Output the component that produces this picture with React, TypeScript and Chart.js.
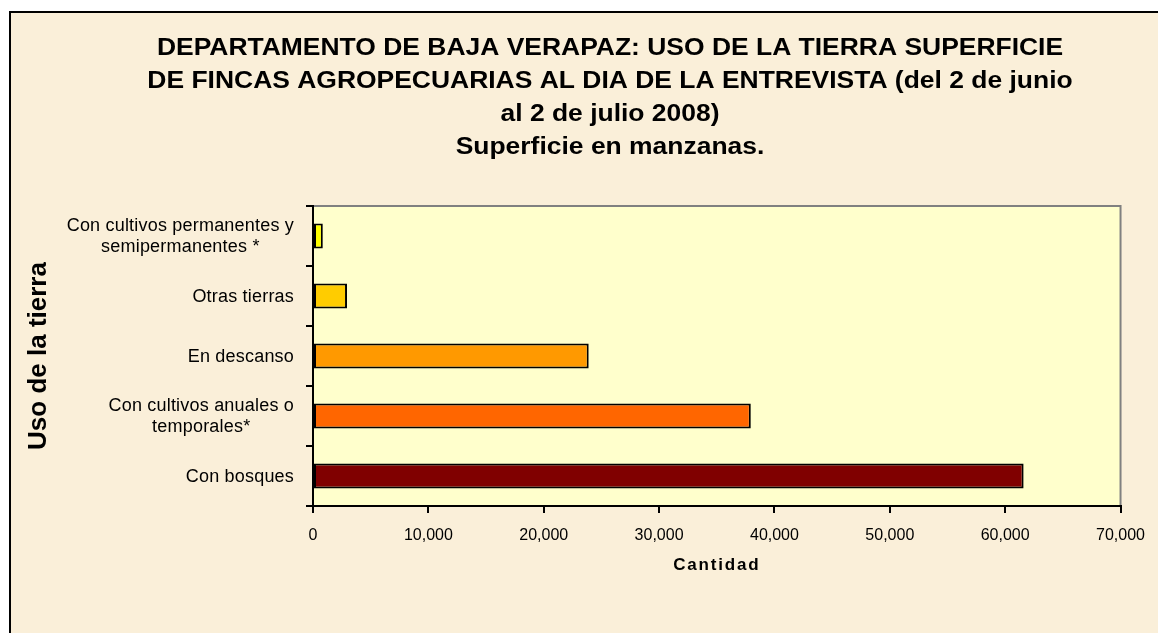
import React, { useEffect, useRef } from "react";
import { Chart, registerables } from "chart.js";

Chart.register(...registerables);

const titleLines = [
  "DEPARTAMENTO DE BAJA VERAPAZ: USO DE LA TIERRA SUPERFICIE",
  "DE FINCAS AGROPECUARIAS AL DIA DE LA ENTREVISTA (del 2 de junio",
  "al 2 de julio 2008)",
  "Superficie en manzanas.",
];
const categories: string[][] = [
  ["Con cultivos permanentes y", "semipermanentes *"],
  ["Otras tierras"],
  ["En descanso"],
  ["Con cultivos anuales o", "temporales*"],
  ["Con bosques"],
];
const values = [850, 2950, 23900, 37950, 61600];
const barColors = ["#FFFF00", "#FFCC00", "#FF9900", "#FF6600", "#800000"];
const xTickValues = [0, 10000, 20000, 30000, 40000, 50000, 60000, 70000];
const xTickLabels = ["0", "10,000", "20,000", "30,000", "40,000", "50,000", "60,000", "70,000"];
const yAxisTitle = "Uso de la tierra";
const xAxisTitle = "Cantidad";

const FONT = "Arial, 'Liberation Sans', sans-serif";
const BG = "#FAEFD9";

const textPlugin = {
  id: "excelTexts",
  beforeDraw(chart: any) {
    const { ctx, chartArea: a, width, height } = chart;
    ctx.save();
    ctx.fillStyle = BG;
    ctx.fillRect(0, 0, width, height);
    ctx.fillStyle = "#FFFFCC";
    ctx.fillRect(a.left, a.top, a.right - a.left, a.bottom - a.top);
    ctx.strokeStyle = "#808080";
    ctx.lineWidth = 2;
    ctx.beginPath();
    ctx.moveTo(a.left, a.top);
    ctx.lineTo(a.right, a.top);
    ctx.lineTo(a.right, a.bottom);
    ctx.stroke();
    ctx.restore();
  },
  afterDraw(chart: any) {
    const { ctx, chartArea: a } = chart;
    const yScale = chart.scales.y;
    ctx.save();
    ctx.fillStyle = "#000";
    ctx.textBaseline = "middle";
    // main title (wide Excel rendering)
    ctx.font = `bold 23px ${FONT}`;
    ctx.textAlign = "center";
    titleLines.forEach((line, i) => {
      ctx.save();
      ctx.translate(599, 36 + i * 33);
      ctx.scale(1.15, 1);
      ctx.fillText(line, 0, 0);
      ctx.restore();
    });
    // y axis title
    ctx.save();
    ctx.translate(28, (a.top + a.bottom) / 2);
    ctx.rotate(-Math.PI / 2);
    ctx.font = `bold 26px ${FONT}`;
    ctx.textAlign = "center";
    ctx.fillText(yAxisTitle, 0, 0);
    ctx.restore();
    // y tick labels (Excel style: block right-aligned, lines centered)
    ctx.font = `18px ${FONT}`;
    (ctx as any).letterSpacing = "0.2px";
    ctx.textAlign = "center";
    const rightEdge = a.left - 19;
    const lh = 21;
    categories.forEach((lines, i) => {
      const cy = yScale.getPixelForTick(i);
      const widest = Math.max(...lines.map((l) => ctx.measureText(l).width));
      const cx = rightEdge - widest / 2;
      lines.forEach((l, j) => {
        const y = cy + 1 + (j - (lines.length - 1) / 2) * lh;
        ctx.fillText(l, cx, y);
      });
    });
    // x axis title
    ctx.font = `bold 17px ${FONT}`;
    (ctx as any).letterSpacing = "1.8px";
    ctx.fillText(xAxisTitle, (a.left + a.right) / 2, a.bottom + 59);
    (ctx as any).letterSpacing = "0px";
    ctx.restore();
  },
};

export default function App() {
  const ref = useRef<HTMLCanvasElement | null>(null);
  useEffect(() => {
    if (!ref.current) return;
    const chart = new Chart(ref.current, {
      type: "bar",
      data: {
        labels: categories.map((c) => c.join(" ")),
        datasets: [
          {
            data: values,
            backgroundColor: barColors,
            borderColor: "#000000",
            borderWidth: 2,
            borderSkipped: false,
            categoryPercentage: 1,
            barPercentage: 0.42,
          },
        ],
      },
      options: {
        indexAxis: "y",
        animation: false,
        responsive: false,
        devicePixelRatio: 1,
        layout: { padding: { top: 193, right: 37, left: 0, bottom: 0 } },
        plugins: {
          legend: { display: false },
          tooltip: { enabled: false },
          title: { display: false },
        },
        scales: {
          x: {
            type: "linear",
            min: 0,
            max: 70000,
            afterBuildTicks: (scale: any) => {
              scale.ticks = xTickValues.map((v) => ({ value: v }));
            },
            afterFit: (scale: any) => {
              scale.height = 127;
            },
            ticks: {
              color: "#000",
              font: { family: FONT, size: 16 },
              padding: 13,
              maxRotation: 0,
              callback: (v: any) => {
                const idx = xTickValues.indexOf(Number(v));
                return idx >= 0 ? xTickLabels[idx] : "";
              },
            },
            grid: {
              drawOnChartArea: false,
              drawTicks: true,
              tickLength: 7,
              color: "#000",
              lineWidth: 2,
            },
            border: { display: true, color: "#000", width: 2 },
          },
          y: {
            type: "category",
            afterFit: (scale: any) => {
              scale.width = 302;
            },
            ticks: { display: false },
            grid: {
              offset: true,
              drawOnChartArea: false,
              drawTicks: true,
              tickLength: 7,
              color: "#000",
              lineWidth: 2,
            },
            border: { display: true, color: "#000", width: 2 },
          },
        },
      },
      plugins: [textPlugin],
    } as any);
    return () => chart.destroy();
  }, []);

  return (
    <div
      style={{
        position: "fixed",
        left: 9,
        top: 11,
        right: 0,
        bottom: 0,
        borderLeft: "2px solid #000",
        borderTop: "2px solid #000",
        background: BG,
        overflow: "hidden",
      }}
    >
      <canvas ref={ref} width={1147} height={620} style={{ display: "block" }} />
    </div>
  );
}
